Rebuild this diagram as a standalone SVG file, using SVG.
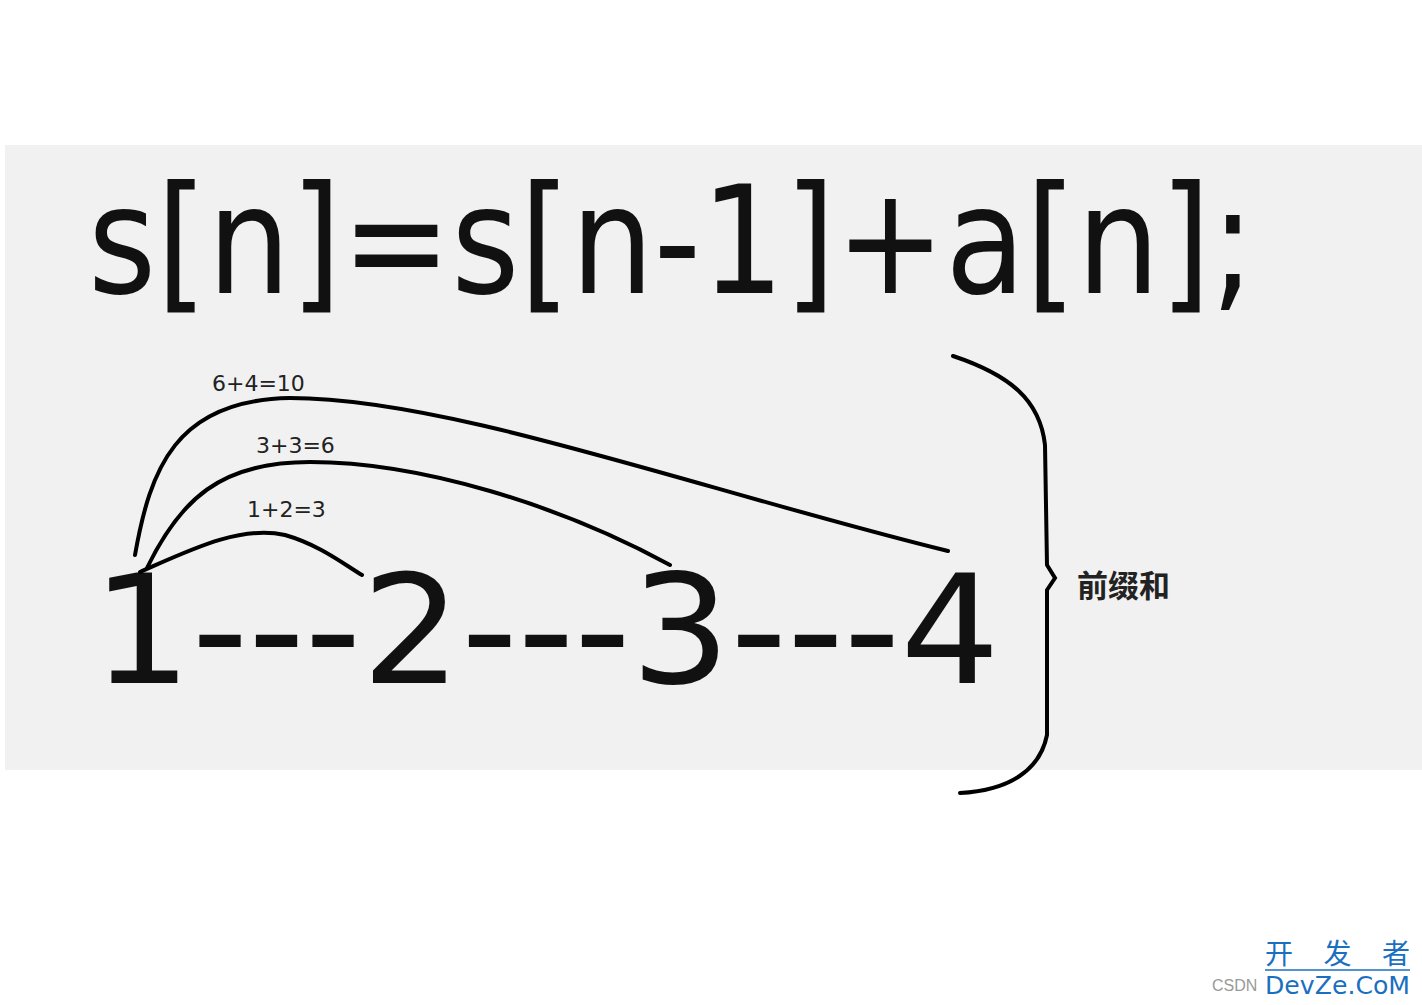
<svg xmlns="http://www.w3.org/2000/svg" width="1422" height="1005" viewBox="0 0 1422 1005">
<style>
.big{font-family:"DejaVu Sans","Liberation Sans",sans-serif;fill:#111}
.lbl{font-family:"DejaVu Sans","Liberation Sans",sans-serif;font-size:22px;fill:#222}
.arc{fill:none;stroke:#000;stroke-width:4;stroke-linecap:round}
</style>
<rect width="1422" height="1005" fill="#fff"/>
<rect x="5" y="145" width="1417" height="625" fill="#f1f1f1"/>
<g id="formula">
<text class="big" x="88" y="293" font-size="150" textLength="1167" lengthAdjust="spacingAndGlyphs">s[n]=s[n-1]+a[n];</text>
</g>
<g id="sequence">
<text class="big" x="92" y="683" font-size="152" textLength="908" lengthAdjust="spacingAndGlyphs">1---2---3---4</text>
</g>
<g id="connectors">
<path class="arc" d="M140,572 C190,550 240,525 285,535 C320,545 345,565 362,575"/>
<path class="arc" d="M147,568 C180,500 220,462 310,462 C420,462 560,505 670,565"/>
<path class="arc" d="M135,555 C150,470 175,400 290,398 C450,398 700,490 948,551"/>
<path class="arc" d="M953,356 C1010,375 1040,400 1045,445 L1047,565 L1055,578 L1047,590 L1047,735 C1040,770 1010,790 960,793"/>
</g>
<g id="labels">
<text class="lbl" x="212" y="391">6+4=10</text>
<text class="lbl" x="256" y="453">3+3=6</text>
<text class="lbl" x="247" y="517">1+2=3</text>
<text x="1077" y="597" font-family="'Noto Sans CJK SC',sans-serif" font-size="31" font-weight="bold" fill="#222">前缀和</text>
</g>
<g id="watermark">
<text x="1265" y="964" font-family="'Noto Sans CJK SC',sans-serif" font-size="28" fill="#1b6fc0" textLength="145" lengthAdjust="spacing">开发者</text>
<line x1="1265" y1="970" x2="1410" y2="970" stroke="#1b6fc0" stroke-width="1.5"/>
<text x="1212" y="991" font-family="'Liberation Sans',sans-serif" font-size="16" fill="#999">CSDN</text>
<text x="1265" y="994" font-family="'DejaVu Sans',sans-serif" font-size="24" fill="#1b6fc0" textLength="145" lengthAdjust="spacingAndGlyphs">DevZe.CoM</text>
</g>
</svg>
